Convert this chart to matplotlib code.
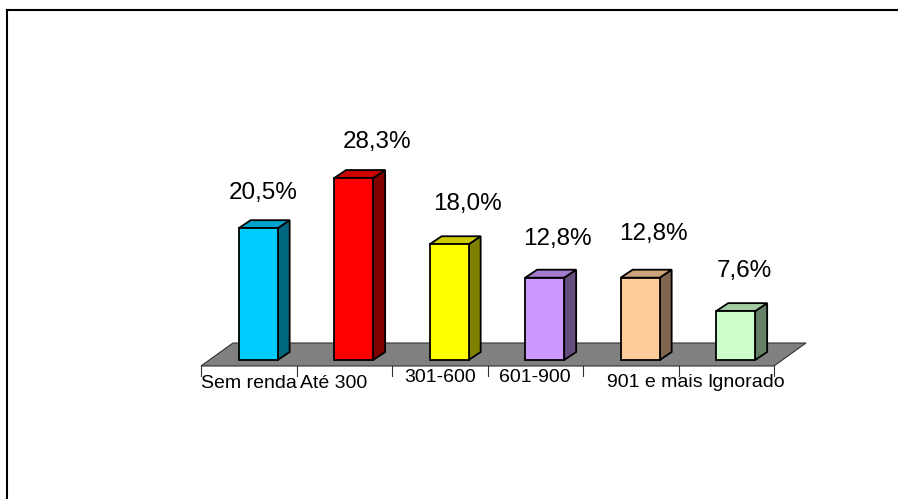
import matplotlib.pyplot as plt
import numpy as np
from matplotlib.patches import Polygon
from matplotlib.lines import Line2D

plt.rcParams['font.family'] = ['Liberation Sans', 'DejaVu Sans']

# data
categories = ['Sem renda', 'Até 300', '301-600', '601-900', '901 e mais', 'Ignorado']
values = [20.5, 28.3, 18.0, 12.8, 12.8, 7.6]
colors = ['#00CCFF', '#FF0000', '#FFFF00', '#CC99FF', '#FFCC99', '#CCFFCC']

# label nudges in pixels (Excel places them a bit unevenly)
pct_dx = [-1, 17, 12, 7, 7, 3]
pct_dy = [29, 30, 34, 33, 38, 34]
cat_dx = [0, -11, 0, 0, 24, 20]
cat_dy = [-22, -22, -16, -16, -21, -21]

W, H = 898, 499
fig = plt.figure(figsize=(W / 100, H / 100), dpi=100)
ymax = 30
ax = fig.add_axes([201 / W, (H - 360) / H, 573 / W, ymax * 6.43 / H])
ax.set_xlim(-0.5, len(categories) - 0.5)
ax.set_ylim(0, ymax)
ax.axis('off')

px_x = 95.5   # pixels per category
px_y = 6.43   # pixels per percent

# 3d geometry in data units
bar_w = 39 / px_x
bar_off = 9.4 / px_x
bar_dx, bar_dy = 12 / px_x, 8 / px_y
floor_front = -6 / px_y
floor_back = 17 / px_y
floor_dx = 32 / px_x


def shade(c, f):
    rgb = np.array(plt.matplotlib.colors.to_rgb(c))
    return tuple(rgb * f)


# floor
n = len(categories)
x0, x1 = -0.5, n - 0.5
floor = Polygon([(x0, floor_front), (x1, floor_front),
                 (x1 + floor_dx, floor_back), (x0 + floor_dx, floor_back)],
                closed=True, facecolor='#808080', edgecolor='#333333',
                lw=0.8, clip_on=False, zorder=1)
ax.add_patch(floor)

# tick marks under the floor front edge
for k in range(n + 1):
    xk = x0 + k
    ax.plot([xk, xk], [floor_front, floor_front - 10 / px_y], color='#333333',
            lw=0.8, clip_on=False, zorder=1)

# bars
for i, (v, c) in enumerate(zip(values, colors)):
    left = i + bar_off - bar_w / 2
    right = left + bar_w
    front = Polygon([(left, 0), (right, 0), (right, v), (left, v)],
                    facecolor=c, edgecolor='black', lw=1.3, clip_on=False,
                    zorder=3, joinstyle='miter')
    top = Polygon([(left, v), (right, v), (right + bar_dx, v + bar_dy),
                   (left + bar_dx, v + bar_dy)],
                  facecolor=shade(c, 0.8), edgecolor='black', lw=1.3,
                  clip_on=False, zorder=3, joinstyle='miter')
    side = Polygon([(right, 0), (right + bar_dx, bar_dy),
                    (right + bar_dx, v + bar_dy), (right, v)],
                   facecolor=shade(c, 0.5), edgecolor='black', lw=1.3,
                   clip_on=False, zorder=3, joinstyle='miter')
    for p in (side, top, front):
        ax.add_patch(p)

    label = f'{v:.1f}%'.replace('.', ',')
    ax.annotate(label, xy=(i + bar_off + bar_dx / 2, v),
                xytext=(pct_dx[i], pct_dy[i]), textcoords='offset pixels',
                ha='center', va='baseline', fontsize=17.5, annotation_clip=False)

# category labels
for i, name in enumerate(categories):
    ax.annotate(name, xy=(i, floor_front), xytext=(cat_dx[i], cat_dy[i]),
                textcoords='offset pixels', ha='center', va='baseline',
                fontsize=14, annotation_clip=False)

# outer frame (only left and top edges visible)
fig.add_artist(Line2D([7 / W, 7 / W], [0, 1 - 10 / H], transform=fig.transFigure,
                      color='black', lw=1.5))
fig.add_artist(Line2D([7 / W, 1], [1 - 10 / H, 1 - 10 / H], transform=fig.transFigure,
                      color='black', lw=1.5))

fig.savefig('out.png', dpi=100, facecolor='white')
